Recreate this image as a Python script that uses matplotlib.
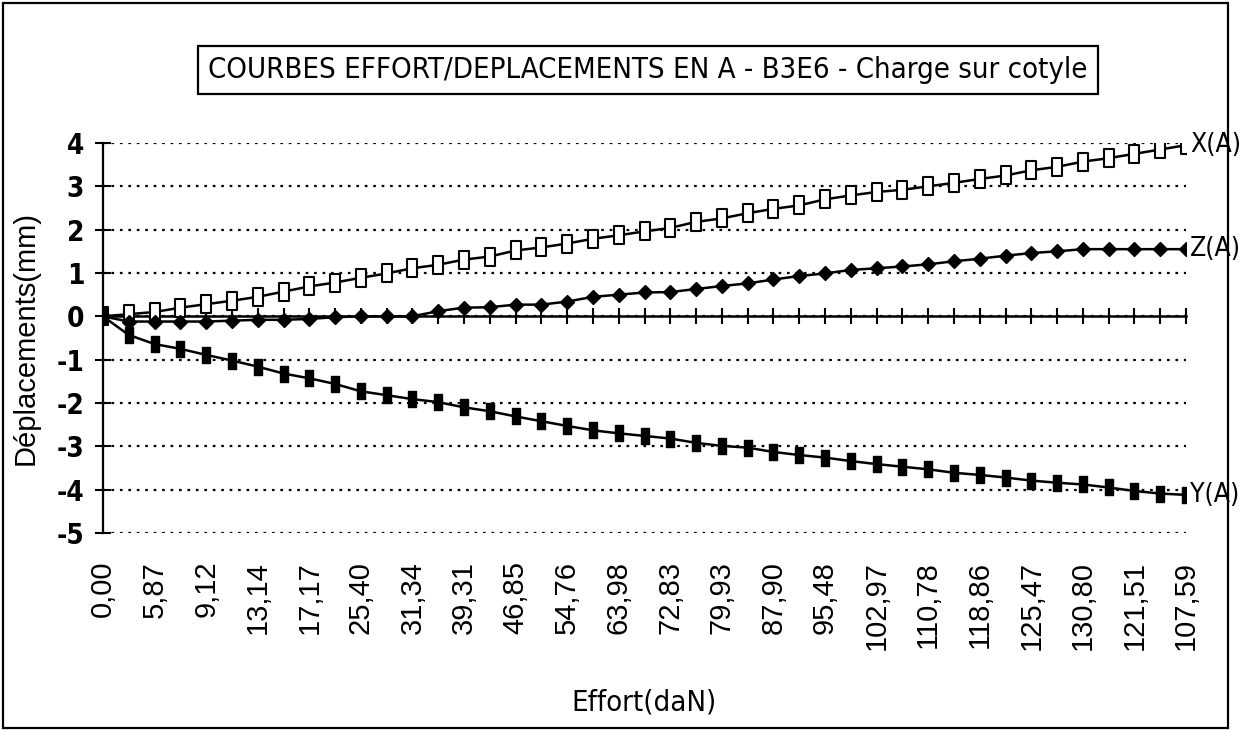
import numpy as np
import matplotlib.pyplot as plt
from matplotlib.path import Path
from matplotlib.patches import Rectangle

# category labels (one every other point is shown on the chart)
efforts_shown = ['0,00', '5,87', '9,12', '13,14', '17,17', '25,40', '31,34', '39,31',
                 '46,85', '54,76', '63,98', '72,83', '79,93', '87,90', '95,48', '102,97',
                 '110,78', '118,86', '125,47', '130,80', '121,51', '107,59']

x_a = [0.0, 0.05, 0.1, 0.2, 0.28, 0.36, 0.45, 0.57, 0.69, 0.78, 0.89, 0.99, 1.11, 1.19,
       1.31, 1.38, 1.52, 1.59, 1.68, 1.79, 1.87, 1.96, 2.04, 2.18, 2.26, 2.38, 2.48, 2.56,
       2.70, 2.79, 2.87, 2.92, 3.0, 3.08, 3.17, 3.25, 3.37, 3.45, 3.57, 3.65, 3.75, 3.85, 3.95]
y_a = [0.0, -0.43, -0.64, -0.75, -0.89, -1.02, -1.16, -1.32, -1.43, -1.56, -1.73, -1.82,
       -1.91, -1.98, -2.1, -2.19, -2.31, -2.42, -2.53, -2.63, -2.7, -2.76, -2.82, -2.92,
       -2.99, -3.03, -3.13, -3.2, -3.26, -3.34, -3.41, -3.47, -3.53, -3.61, -3.66, -3.72,
       -3.79, -3.84, -3.88, -3.95, -4.03, -4.09, -4.12]
z_a = [0.0, -0.12, -0.12, -0.12, -0.12, -0.1, -0.08, -0.08, -0.06, -0.02, 0.0, 0.0, 0.0,
       0.12, 0.2, 0.21, 0.27, 0.27, 0.34, 0.45, 0.5, 0.55, 0.56, 0.63, 0.7, 0.76, 0.85,
       0.93, 0.99, 1.07, 1.11, 1.15, 1.2, 1.27, 1.33, 1.4, 1.46, 1.5, 1.55, 1.55, 1.55,
       1.55, 1.55]

n = len(x_a)
idx = np.arange(n)

narrow = dict(fontfamily=['DejaVu Sans'], fontstretch='condensed')
regular = ['Liberation Sans', 'DejaVu Sans']

# tall rectangle marker (scanned squares look stretched)
rect = Path([(-0.55, -1), (0.55, -1), (0.55, 1), (-0.55, 1), (-0.55, -1)],
            [Path.MOVETO, Path.LINETO, Path.LINETO, Path.LINETO, Path.CLOSEPOLY])

fig = plt.figure(figsize=(12.45, 7.31), dpi=100)
ax = fig.add_axes([103/1245, 1-533/731, (1186-103)/1245, (533-143)/731])

ax.plot(idx, x_a, color='black', lw=1.8, marker=rect, ms=13, mfc='white', mec='black', mew=1.5, zorder=4)
ax.plot(idx, z_a, color='black', lw=1.8, marker='D', ms=7, mfc='black', mec='black', zorder=4)
ax.plot(idx, y_a, color='black', lw=1.8, marker=rect, ms=11, mfc='black', mec='black', zorder=4)

ax.set_xlim(0, n-1)
ax.set_ylim(-5, 4)
ax.set_yticks(range(-5, 5))
ax.set_yticklabels([str(v) for v in range(-5, 5)], fontsize=20, fontweight='bold', **narrow)
for v in range(-5, 5):
    ax.axhline(v, color='black', lw=1.6, ls=(0, (1.2, 2.6)), zorder=1)

# category axis crossing at 0
ax.spines['top'].set_visible(False)
ax.spines['right'].set_visible(False)
ax.spines['left'].set_linewidth(1.6)
ax.spines['bottom'].set_position(('data', 0))
ax.spines['bottom'].set_linewidth(1.8)
ax.spines['bottom'].set_zorder(3)
ax.set_xticks(idx)
ax.tick_params(axis='x', direction='inout', length=11, width=1.5, labelbottom=False)
ax.tick_params(axis='y', direction='inout', length=11, width=1.5, pad=8)

sec = ax.secondary_xaxis('bottom')
sec.set_xticks(idx[::2])
sec.set_xticklabels(efforts_shown, rotation=90, fontfamily=regular, fontsize=21)
sec.tick_params(length=0, pad=20)
sec.spines['bottom'].set_visible(False)
sec.set_xlabel('Effort(daN)', fontsize=21, labelpad=28, **narrow)

ax.set_ylabel('Déplacements(mm)', fontfamily=regular, fontsize=21, labelpad=12)

for vals, name in [(x_a, 'X(A)'), (z_a, 'Z(A)'), (y_a, 'Y(A)')]:
    ax.annotate(name, (n-1, vals[-1]), xytext=(3, 0), textcoords='offset points',
                va='center', ha='left', fontsize=19, annotation_clip=False, **narrow)

fig.text(648/1245, 1-70/731, 'COURBES EFFORT/DEPLACEMENTS EN A - B3E6 - Charge sur cotyle',
         ha='center', va='center', fontsize=21,
         bbox=dict(boxstyle='square,pad=0.35', fc='white', ec='black', lw=1.6), **narrow)

fig.patches.append(Rectangle((3/1245, 3/731), 1225/1245, 725/731, transform=fig.transFigure,
                             fill=False, ec='black', lw=1.6))

fig.savefig('out.png', dpi=100)
